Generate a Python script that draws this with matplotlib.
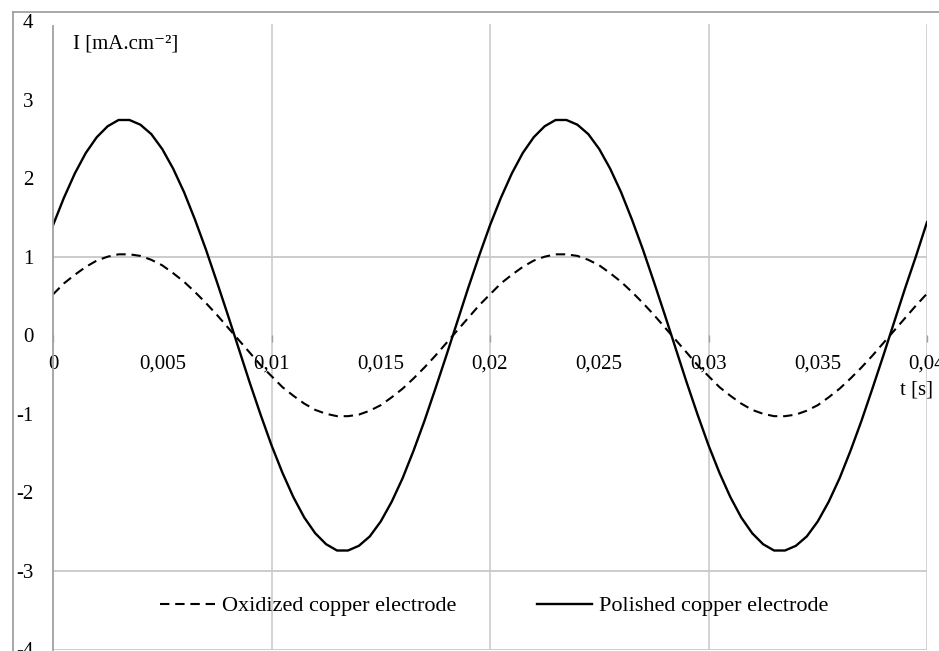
import matplotlib
matplotlib.use('Agg')
import matplotlib.pyplot as plt
from matplotlib.lines import Line2D
from matplotlib.ticker import MultipleLocator, FuncFormatter
import numpy as np

plt.rcParams['font.family'] = ['Liberation Serif', 'DejaVu Serif']
plt.rcParams['axes.unicode_minus'] = False

# time axis, 0 .. 0.04 s in 0.5 ms steps
t = np.arange(81) * 0.0005

# values, mA.cm-2
polished = [
    1.40, 1.75, 2.06, 2.32, 2.52, 2.66, 2.74, 2.74, 2.68, 2.56,
    2.37, 2.12, 1.82, 1.47, 1.09, 0.68, 0.26, -0.17, -0.60, -1.01,
    -1.40, -1.75, -2.06, -2.32, -2.52, -2.66, -2.74, -2.74, -2.68, -2.56,
    -2.37, -2.12, -1.82, -1.47, -1.09, -0.68, -0.26, 0.17, 0.60, 1.01,
    1.40, 1.75, 2.06, 2.32, 2.52, 2.66, 2.74, 2.74, 2.68, 2.56,
    2.37, 2.12, 1.82, 1.47, 1.09, 0.68, 0.26, -0.17, -0.60, -1.01,
    -1.40, -1.75, -2.06, -2.32, -2.52, -2.66, -2.74, -2.74, -2.68, -2.56,
    -2.37, -2.12, -1.82, -1.47, -1.09, -0.68, -0.26, 0.17, 0.60, 1.01,
    1.44,
]
oxidized = [
    0.52, 0.66, 0.77, 0.87, 0.95, 1.00, 1.03, 1.03, 1.01, 0.96,
    0.89, 0.79, 0.68, 0.55, 0.41, 0.26, 0.10, -0.06, -0.22, -0.38,
    -0.52, -0.66, -0.77, -0.87, -0.95, -1.00, -1.03, -1.03, -1.01, -0.96,
    -0.89, -0.79, -0.68, -0.55, -0.41, -0.26, -0.10, 0.06, 0.22, 0.38,
    0.52, 0.66, 0.77, 0.87, 0.95, 1.00, 1.03, 1.03, 1.01, 0.96,
    0.89, 0.79, 0.68, 0.55, 0.41, 0.26, 0.10, -0.06, -0.22, -0.38,
    -0.52, -0.66, -0.77, -0.87, -0.95, -1.00, -1.03, -1.03, -1.01, -0.96,
    -0.89, -0.79, -0.68, -0.55, -0.41, -0.26, -0.10, 0.06, 0.22, 0.38,
    0.53,
]
labels = ['Oxidized copper electrode', 'Polished copper electrode']
grid_y = [1, -3, -4]

fig = plt.figure(figsize=(9.39, 6.51), dpi=100)
ax = fig.add_axes([53 / 939, 1 - 649.5 / 651, 874 / 939, 628.5 / 651])

# outer chart border (gray frame, cut by the image edge)
fx0, fy0 = 13 / 939, 1 - 12 / 651
fig.add_artist(Line2D([fx0, 1.0], [fy0, fy0], color='#a0a0a0', lw=1.3))
fig.add_artist(Line2D([fx0, fx0], [fy0, 0.0], color='#a0a0a0', lw=1.3))

ax.set_xlim(0, 0.04)
ax.set_ylim(-4, 4)

for x in [0.01, 0.02, 0.03, 0.04]:
    ax.axvline(x, ymax=0.994, color='#d0d0d0', lw=1.3, zorder=0)
for y in grid_y:
    ax.axhline(y, color='#c8c8c8', lw=1.3, zorder=0)

ax.plot(t, oxidized, color='black', lw=1.5, dashes=(4.5, 2.8), label=labels[0])
ax.plot(t, polished, color='black', lw=1.7, label=labels[1])

for side in ['top', 'right']:
    ax.spines[side].set_visible(False)
ax.spines['left'].set_color('#a0a0a0')
ax.spines['left'].set_linewidth(1.3)
ax.spines['left'].set_bounds(-4, 3.94)
ax.spines['bottom'].set_position(('data', 0))
ax.spines['bottom'].set_color('none')

fmt = FuncFormatter(lambda v, p: ('%g' % v).replace('.', ','))
ax.xaxis.set_major_locator(MultipleLocator(0.005))
ax.xaxis.set_major_formatter(fmt)
ax.xaxis.set_minor_locator(MultipleLocator(0.01))
ax.xaxis.remove_overlapping_locs = False
ax.tick_params(axis='x', which='major', length=0, pad=14, labelsize=15)
ax.tick_params(axis='x', which='minor', length=5, color='#a0a0a0', width=1)

ax.yaxis.set_major_locator(MultipleLocator(1))
ax.yaxis.set_major_formatter(FuncFormatter(lambda v, p: '%d' % v))
ax.tick_params(axis='y', length=0, pad=14, labelsize=15)

ax.text(0.023, 0.963, 'I [mA.cm\u207b\u00b2]', transform=ax.transAxes,
        ha='left', va='center', fontsize=15)
ax.text(1.007, 0.413, 't [s]', transform=ax.transAxes,
        ha='right', va='center', fontsize=15)

ax.legend(loc='center', bbox_to_anchor=(0.505, 0.069), ncol=2, frameon=False,
          fontsize=16, handlelength=2.5, handletextpad=0.3, columnspacing=3.6)

fig.savefig('out.png', dpi=100)
